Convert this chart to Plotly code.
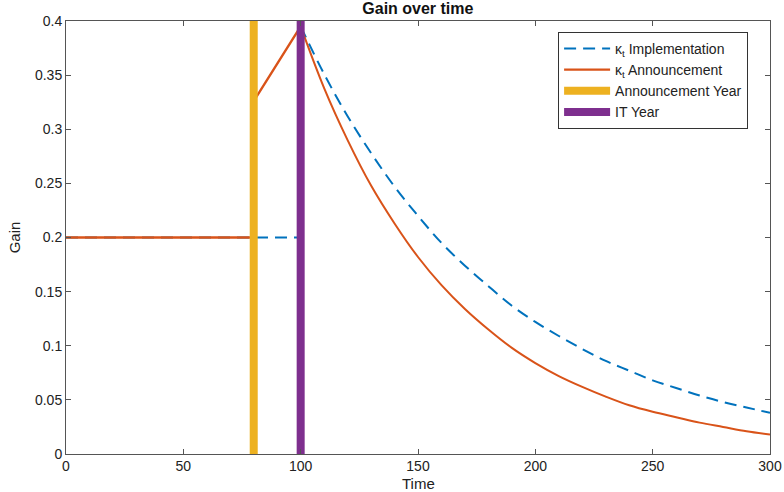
import plotly.graph_objects as go

# ---- data ----
t_pre = [0, 10, 20, 30, 40, 50, 60, 70, 80]
t_post = [100, 110, 120, 130, 140, 150, 160, 170, 180, 190, 200,
          210, 220, 230, 240, 250, 260, 270, 280, 290, 300]

impl_pre_t = [0, 80, 100, 100]
impl_pre_v = [0.2, 0.2, 0.2, 0.395]
impl_post = [0.395, 0.351, 0.312, 0.278, 0.247, 0.220, 0.195, 0.174, 0.155, 0.137, 0.122,
             0.109, 0.097, 0.086, 0.077, 0.068, 0.061, 0.054, 0.048, 0.043, 0.038]

ann_pre = [0.2, 0.2, 0.2, 0.2, 0.2, 0.2, 0.2, 0.2, 0.2]
ann_jump_t = [80, 80, 100]
ann_jump_v = [0.2, 0.326, 0.395]
ann_post = [0.395, 0.338, 0.290, 0.248, 0.213, 0.182, 0.156, 0.134, 0.115, 0.098, 0.084,
            0.072, 0.062, 0.053, 0.045, 0.039, 0.034, 0.029, 0.025, 0.021, 0.018]

announcement_year = 80
it_year = 100
y_span = [0, 0.4]

BLUE = "#0072BD"
ORANGE = "#D95319"
YELLOW = "#EDB120"
PURPLE = "#7E2F8E"

fig = go.Figure()
fig.add_trace(go.Scatter(x=impl_pre_t, y=impl_pre_v, mode="lines", name="κ<sub>t</sub> Implementation",
                         legendgroup="impl",
                         line=dict(color=BLUE, width=2, dash="12px,7px")))
fig.add_trace(go.Scatter(x=t_post, y=impl_post, mode="lines", showlegend=False, legendgroup="impl",
                         line=dict(color=BLUE, width=2, dash="12px,7px", shape="spline")))
fig.add_trace(go.Scatter(x=t_pre + ann_jump_t[1:], y=ann_pre + ann_jump_v[1:], mode="lines",
                         name="κ<sub>t</sub> Announcement", legendgroup="ann",
                         line=dict(color=ORANGE, width=2.4)))
fig.add_trace(go.Scatter(x=t_post, y=ann_post, mode="lines", showlegend=False, legendgroup="ann",
                         line=dict(color=ORANGE, width=2, shape="spline")))
fig.add_trace(go.Scatter(x=[announcement_year] * 2, y=y_span, mode="lines", name="Announcement Year",
                         line=dict(color=YELLOW, width=8)))
fig.add_trace(go.Scatter(x=[it_year] * 2, y=y_span, mode="lines", name="IT Year",
                         line=dict(color=PURPLE, width=8)))

axis_common = dict(showgrid=False, zeroline=False, showline=True, mirror="ticks",
                   linecolor="#555555", linewidth=1, ticks="inside", ticklen=5,
                   tickcolor="#555555", tickfont=dict(size=14, color="#222222"),
                   automargin=False)

fig.update_layout(
    width=784, height=492,
    margin=dict(l=66, r=14, t=21, b=38),
    paper_bgcolor="white", plot_bgcolor="white",
    font=dict(family="Liberation Sans, Arial, sans-serif", color="#222222"),
    title=dict(text="<b>Gain over time</b>", x=0.533, xanchor="center", y=0.994, yanchor="top",
               font=dict(size=16, color="#111111")),
    xaxis=dict(range=[0, 300], dtick=50, ticklabelstandoff=-1, **axis_common),
    yaxis=dict(range=[0, 0.4], dtick=0.05, title=dict(text="Gain", standoff=10, font=dict(size=15)),
               **axis_common),
    legend=dict(x=0.699, y=0.975, xanchor="left", yanchor="top", bgcolor="white",
                bordercolor="#333333", borderwidth=1, font=dict(size=14), tracegroupgap=0,
                itemwidth=46),
    annotations=[dict(text="Time", xref="paper", yref="paper", x=0.5, y=0, yshift=-29,
                      xanchor="center", yanchor="middle", showarrow=False,
                      font=dict(size=15, color="#222222"))],
    showlegend=True,
)

fig.write_html("out.html")
